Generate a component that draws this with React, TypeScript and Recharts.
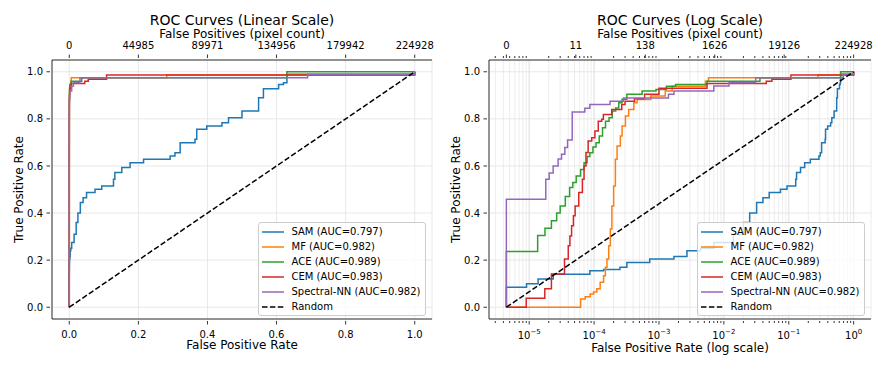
import React from "react";
import { LineChart, Line, XAxis, YAxis, CartesianGrid, ReferenceLine } from "recharts";

const FONT = "'DejaVu Sans', sans-serif";
const N_NEG = 224928;
const FP_MIN = 1 / N_NEG;

// ROC corner points: [false positive rate, true positive rate]
const samRoc: [number, number][] = [
  [0, 0], [4.446e-6, 0.085], [9.1e-6, 0.1], [1.37e-5, 0.12], [2.34e-5, 0.14],
  [8.6e-5, 0.155], [1.4e-4, 0.16], [2.5e-4, 0.17], [3.2e-4, 0.19], [7.2e-4, 0.205],
  [1.7e-3, 0.215], [2.7e-3, 0.24], [4.4e-3, 0.25], [7.0e-3, 0.275], [1.4e-2, 0.31],
  [2.0e-2, 0.36], [2.5e-2, 0.4], [3.2e-2, 0.445], [4.0e-2, 0.465], [5.0e-2, 0.487],
  [7.45e-2, 0.501], [9.4e-2, 0.515], [0.128, 0.544], [0.132, 0.572], [0.152, 0.593],
  [0.176, 0.614], [0.215, 0.628], [0.292, 0.642], [0.306, 0.656], [0.321, 0.699],
  [0.364, 0.713], [0.369, 0.756], [0.398, 0.77], [0.442, 0.784], [0.461, 0.805],
  [0.5, 0.833], [0.548, 0.89], [0.562, 0.928], [0.606, 0.946], [0.62, 0.953],
  [0.63, 0.99], [1.0, 1.0],
];
const mfRoc: [number, number][] = [
  [0, 0], [6.2e-5, 0.035], [7.3e-5, 0.045], [8.7e-5, 0.056], [9.8e-5, 0.065],
  [1.1e-4, 0.078], [1.24e-4, 0.106], [1.4e-4, 0.134], [1.49e-4, 0.17], [1.58e-4, 0.205],
  [1.68e-4, 0.261], [1.78e-4, 0.332], [1.88e-4, 0.43], [2.0e-4, 0.515], [2.13e-4, 0.628],
  [2.26e-4, 0.685], [2.54e-4, 0.727], [2.7e-4, 0.77], [3.04e-4, 0.812], [3.41e-4, 0.84],
  [4.1e-4, 0.868], [4.6e-4, 0.882], [7.5e-4, 0.897], [1.25e-3, 0.918], [1.6e-3, 0.939],
  [5.2e-3, 0.96], [5.8e-3, 0.975], [0.282, 0.986], [1.0, 1.0],
];
const aceRoc: [number, number][] = [
  [0, 0], [4.446e-6, 0.237], [1.35e-5, 0.305], [1.75e-5, 0.335], [2.2e-5, 0.367],
  [2.65e-5, 0.4], [3.0e-5, 0.43], [3.6e-5, 0.47], [4.2e-5, 0.508], [4.7e-5, 0.53],
  [5.3e-5, 0.557], [6.2e-5, 0.585], [7.0e-5, 0.614], [7.8e-5, 0.64], [8.6e-5, 0.656],
  [9.6e-5, 0.68], [1.07e-4, 0.699], [1.2e-4, 0.727], [1.35e-4, 0.762], [1.5e-4, 0.79],
  [1.7e-4, 0.805], [1.9e-4, 0.833], [2.15e-4, 0.846], [2.4e-4, 0.868], [2.7e-4, 0.883],
  [3.2e-4, 0.905], [5.5e-4, 0.918], [9e-4, 0.925], [1.3e-3, 0.939], [1.8e-3, 0.946],
  [5.5e-3, 0.96], [0.036, 0.975], [0.63, 1.0], [1.0, 1.0],
];
const cemRoc: [number, number][] = [
  [0, 0], [9.0e-6, 0.038], [1.74e-5, 0.078], [2.2e-5, 0.141], [3.5e-5, 0.205],
  [4.0e-5, 0.261], [4.24e-5, 0.303], [4.5e-5, 0.346], [4.8e-5, 0.388], [5.1e-5, 0.43],
  [5.8e-5, 0.487], [6.6e-5, 0.544], [7.0e-5, 0.6], [7.5e-5, 0.657], [8.1e-5, 0.706],
  [9.2e-5, 0.72], [1.03e-4, 0.748], [1.16e-4, 0.79], [1.31e-4, 0.798], [1.39e-4, 0.819],
  [1.87e-4, 0.84], [2.67e-4, 0.861], [3.0e-4, 0.875], [4.2e-4, 0.885], [6e-4, 0.905],
  [1.0e-3, 0.93], [5.5e-3, 0.95], [0.045, 0.96], [0.055, 0.968], [0.108, 0.986],
  [1.0, 1.0],
];
const nnRoc: [number, number][] = [
  [0, 0], [4.446e-6, 0.459], [1.8e-5, 0.544], [2.03e-5, 0.57], [2.34e-5, 0.6],
  [2.79e-5, 0.63], [3.15e-5, 0.65], [3.54e-5, 0.678], [3.9e-5, 0.71], [4.6e-5, 0.829],
  [7.2e-5, 0.845], [8.6e-5, 0.861], [1.76e-4, 0.875], [2.83e-4, 0.889], [1.4e-3, 0.905],
  [1.7e-3, 0.918], [7e-3, 0.94], [1.2e-2, 0.953], [0.031, 0.975], [0.69, 0.989],
  [1.0, 1.0],
];
const randomRoc: [number, number][] = [[0, 0], [1, 1]];

const SERIES = [
  { name: "SAM (AUC=0.797)", color: "#1f77b4", data: samRoc },
  { name: "MF (AUC=0.982)", color: "#ff7f0e", data: mfRoc },
  { name: "ACE (AUC=0.989)", color: "#2ca02c", data: aceRoc },
  { name: "CEM (AUC=0.983)", color: "#d62728", data: cemRoc },
  { name: "Spectral-NN (AUC=0.982)", color: "#9467bd", data: nnRoc },
];

const LIN_TICKS = [0, 0.2, 0.4, 0.6, 0.8, 1.0];
const LIN_TOP_LABELS = ["0", "44985", "89971", "134956", "179942", "224928"];
const TPR_TICKS = [0, 0.2, 0.4, 0.6, 0.8, 1.0];
const LOG_TICKS = [1e-5, 1e-4, 1e-3, 1e-2, 1e-1, 1];
const LOG_EXPONENTS = ["\u22125", "\u22124", "\u22123", "\u22122", "\u22121", "0"];
const LOG_TOP_LABELS = ["0", "11", "138", "1626", "19126", "224928"];

// axis limits (matplotlib 5% margins)
const LIN_DOMAIN = [-0.05, 1.05];
const LOG_LO = Math.log10(FP_MIN);
const LOG_DOMAIN = [Math.pow(10, LOG_LO * 1.05), Math.pow(10, -LOG_LO * 0.05)];
const TPR_DOMAIN = [-0.05, 1.05];

// minor log ticks 2..9 x 10^k inside the domain
const LOG_MINOR: number[] = [];
for (let e = -6; e <= 0; e++) {
  for (let k = 2; k <= 9; k++) {
    const v = k * Math.pow(10, e);
    if (v > LOG_DOMAIN[0] && v < LOG_DOMAIN[1]) LOG_MINOR.push(v);
  }
}
// twin top axis: evenly spaced in log space from FP_MIN to 1
const LOG_TOP_TICKS = LOG_TOP_LABELS.map((_, i) => Math.pow(10, LOG_LO * (1 - i / 5)));

const toLog = (d: [number, number][]) => d.map(([x, y]) => ({ x: Math.max(x, FP_MIN), y }));
const toLin = (d: [number, number][]) => d.map(([x, y]) => ({ x, y }));

const TICK = "#000";
const GRID = "#e2e2e2";
const GRID_MINOR = "#e9e9e9";

const bottomTick = (label: (v: number) => React.ReactNode | null, base = 16.5) => (p: any) => {
  const { x, y, payload } = p;
  const lab = label(payload.value);
  const len = lab === null ? 2 : 3.5;
  return (
    <g>
      <line x1={x} x2={x} y1={y} y2={y + len} stroke={TICK} strokeWidth={0.8} />
      {lab !== null && (
        <text x={x} y={y + base} textAnchor="middle" fontSize={10} fontFamily={FONT} fill="#000">
          {lab}
        </text>
      )}
    </g>
  );
};

const topTick = (label: (v: number) => string | null) => (p: any) => {
  const { x, y, payload } = p;
  const lab = label(payload.value);
  const len = lab === null ? 2 : 3.5;
  return (
    <g>
      <line x1={x} x2={x} y1={y} y2={y - len} stroke={TICK} strokeWidth={0.8} />
      {lab !== null && (
        <text x={x} y={y - 9.5} textAnchor="middle" fontSize={10} fontFamily={FONT} fill="#000">
          {lab}
        </text>
      )}
    </g>
  );
};

const leftTick = (p: any) => {
  const { x, y, payload } = p;
  return (
    <g>
      <line x1={x - 3.5} x2={x} y1={y} y2={y} stroke={TICK} strokeWidth={0.8} />
      <text x={x - 7} y={y} dy="0.36em" textAnchor="end" fontSize={10} fontFamily={FONT} fill="#000">
        {payload.value.toFixed(1)}
      </text>
    </g>
  );
};

const topLabel = (title: string) => ({
  content: (p: any) => {
    const vb = p.viewBox;
    const cx = vb.x + vb.width / 2;
    return (
      <g fontFamily={FONT} textAnchor="middle" fill="#000">
        <text x={cx} y={vb.y + 25} fontSize={14}>{title}</text>
        <text x={cx} y={vb.y + 37.5} fontSize={12}>False Positives (pixel count)</text>
      </g>
    );
  },
});

const bottomLabel = (text: string, base: number) => ({
  content: (p: any) => {
    const vb = p.viewBox;
    return (
      <text x={vb.x + vb.width / 2} y={vb.y + base} textAnchor="middle" fontSize={12} fontFamily={FONT} fill="#000">
        {text}
      </text>
    );
  },
});

const yLabel = {
  content: (p: any) => {
    const vb = p.viewBox;
    const x = vb.x + vb.width - 29.5;
    const y = vb.y + vb.height / 2;
    return (
      <text x={x} y={y} transform={`rotate(-90 ${x} ${y})`} textAnchor="middle" fontSize={12} fontFamily={FONT} fill="#000">
        True Positive Rate
      </text>
    );
  },
};

function LegendBox({ left, top }: { left: number; top: number }) {
  const items = [...SERIES.map((s) => ({ name: s.name, color: s.color, dash: undefined as string | undefined })),
    { name: "Random", color: "#000", dash: "5.5 2.4" }];
  return (
    <div
      style={{
        position: "absolute", left, top, background: "rgba(255,255,255,0.8)",
        border: "1px solid #cccccc", borderRadius: 3, padding: "1px 5px 1px 3px",
        fontFamily: FONT, fontSize: 10, lineHeight: "15px", color: "#000",
      }}
    >
      {items.map((it) => (
        <div key={it.name} style={{ display: "flex", alignItems: "center", whiteSpace: "nowrap", height: 15 }}>
          <svg width={22} height={6} style={{ display: "block" }}>
            <line x1={0} x2={22} y1={3} y2={3} stroke={it.color} strokeWidth={1.5} strokeDasharray={it.dash} />
          </svg>
          <span style={{ marginLeft: 7.5 }}>{it.name}</span>
        </div>
      ))}
    </div>
  );
}

function LinearPanel() {
  return (
    <LineChart width={443} height={370} margin={{ top: 0, right: 11, bottom: 0, left: 0 }}>
      <CartesianGrid stroke={GRID} strokeWidth={0.8} />
      <XAxis
        type="number" dataKey="x" domain={LIN_DOMAIN} ticks={LIN_TICKS} interval={0}
        allowDataOverflow height={51} tickSize={0} tickLine={false}
        axisLine={{ stroke: "#000", strokeWidth: 0.8 }}
        tick={bottomTick((v) => v.toFixed(1))}
        label={bottomLabel("False Positive Rate", 30)}
      />
      <XAxis
        xAxisId="top" orientation="top" type="number" dataKey="x" domain={LIN_DOMAIN}
        ticks={LIN_TICKS} interval={0} allowDataOverflow height={60} tickSize={0} tickLine={false}
        axisLine={{ stroke: "#000", strokeWidth: 0.8 }}
        tick={topTick((v) => LIN_TOP_LABELS[LIN_TICKS.findIndex((t) => Math.abs(t - v) < 1e-9)])}
        label={topLabel("ROC Curves (Linear Scale)")}
      />
      <YAxis
        type="number" domain={TPR_DOMAIN} ticks={TPR_TICKS} interval={0} allowDataOverflow
        width={52} tickSize={0} tickLine={false} axisLine={{ stroke: "#000", strokeWidth: 0.8 }}
        tick={leftTick} label={yLabel}
      />
      <YAxis
        yAxisId="r" orientation="right" type="number" domain={TPR_DOMAIN} width={0}
        tick={false} tickLine={false} axisLine={{ stroke: "#000", strokeWidth: 0.8 }}
      />
      {SERIES.map((s) => (
        <Line
          key={s.name} data={toLin(s.data)} dataKey="y" type="stepAfter" stroke={s.color}
          strokeWidth={1.5} dot={false} activeDot={false} isAnimationActive={false}
        />
      ))}
      <Line
        data={toLin(randomRoc)} dataKey="y" type="linear" stroke="#000" strokeWidth={1.5}
        strokeDasharray="5.5 2.4" dot={false} activeDot={false} isAnimationActive={false}
      />
    </LineChart>
  );
}

function LogPanel() {
  const allBottom = [...LOG_TICKS, ...LOG_MINOR].sort((a, b) => a - b);
  const allTop = [...LOG_TOP_TICKS, ...LOG_MINOR].sort((a, b) => a - b);
  const isMajor = (list: number[], v: number) => list.some((t) => Math.abs(t - v) / t < 1e-6);
  return (
    <LineChart width={444} height={370} margin={{ top: 0, right: 16, bottom: 0, left: 0 }}>
      <CartesianGrid stroke={GRID_MINOR} strokeWidth={0.8} vertical={true} horizontal={false} />
      <CartesianGrid stroke={GRID} strokeWidth={0.8} vertical={false} />
      {LOG_TICKS.map((t) => (
        <ReferenceLine key={t} x={t} stroke={GRID} strokeWidth={0.8} ifOverflow="hidden" />
      ))}
      <XAxis
        type="number" dataKey="x" scale="log" domain={LOG_DOMAIN} ticks={allBottom} interval={0}
        allowDataOverflow height={51} tickSize={0} tickLine={false}
        axisLine={{ stroke: "#000", strokeWidth: 0.8 }}
        tick={bottomTick((v) => {
          if (!isMajor(LOG_TICKS, v)) return null;
          const i = LOG_TICKS.findIndex((t) => Math.abs(t - v) / t < 1e-6);
          return (
            <>
              <tspan>10</tspan>
              <tspan dy={-5} fontSize={7}>{LOG_EXPONENTS[i]}</tspan>
            </>
          );
        }, 17.5)}
        label={bottomLabel("False Positive Rate (log scale)", 33)}
      />
      <XAxis
        xAxisId="top" orientation="top" type="number" dataKey="x" scale="log" domain={LOG_DOMAIN}
        ticks={allTop} interval={0} allowDataOverflow height={60} tickSize={0} tickLine={false}
        axisLine={{ stroke: "#000", strokeWidth: 0.8 }}
        tick={topTick((v) => {
          if (!isMajor(LOG_TOP_TICKS, v)) return null;
          return LOG_TOP_LABELS[LOG_TOP_TICKS.findIndex((t) => Math.abs(t - v) / t < 1e-6)];
        })}
        label={topLabel("ROC Curves (Log Scale)")}
      />
      <YAxis
        type="number" domain={TPR_DOMAIN} ticks={TPR_TICKS} interval={0} allowDataOverflow
        width={46} tickSize={0} tickLine={false} axisLine={{ stroke: "#000", strokeWidth: 0.8 }}
        tick={leftTick} label={yLabel}
      />
      <YAxis
        yAxisId="r" orientation="right" type="number" domain={TPR_DOMAIN} width={0}
        tick={false} tickLine={false} axisLine={{ stroke: "#000", strokeWidth: 0.8 }}
      />
      {SERIES.map((s) => (
        <Line
          key={s.name} data={toLog(s.data)} dataKey="y" type="stepAfter" stroke={s.color}
          strokeWidth={1.5} dot={false} activeDot={false} isAnimationActive={false}
        />
      ))}
      <Line
        data={toLog(randomRoc)} dataKey="y" type="linear" stroke="#000" strokeWidth={1.5}
        strokeDasharray="5.5 2.4" dot={false} activeDot={false} isAnimationActive={false}
      />
    </LineChart>
  );
}

export default function App() {
  return (
    <div style={{ position: "absolute", left: 0, top: 0, width: 887, height: 370, background: "#fff" }}>
      <div style={{ position: "absolute", left: 0, top: 0 }}>
        <LinearPanel />
      </div>
      <div style={{ position: "absolute", left: 443, top: 0 }}>
        <LogPanel />
      </div>
      <LegendBox left={258} top={222} />
      <LegendBox left={697} top={222} />
    </div>
  );
}
